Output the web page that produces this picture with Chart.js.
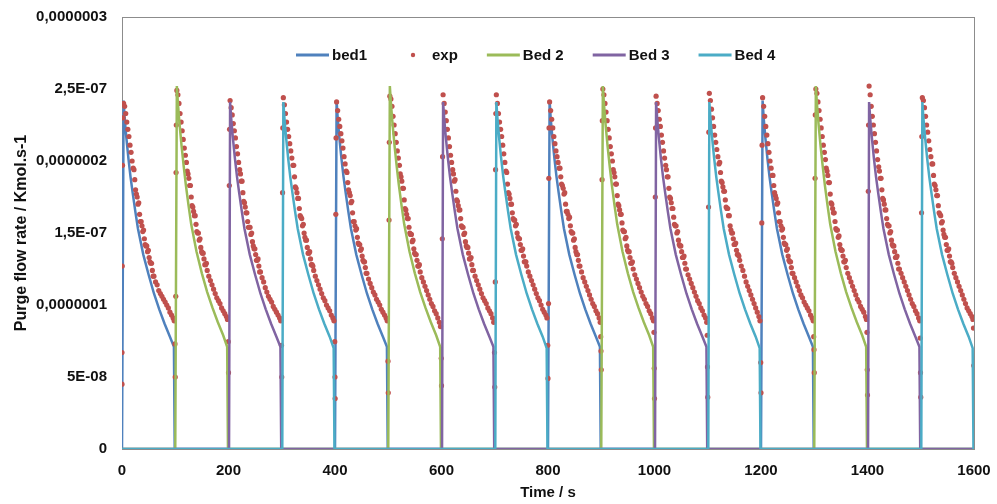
<!DOCTYPE html>
<html>
<head>
<meta charset="utf-8">
<title>Purge flow rate</title>
<script src="https://cdn.jsdelivr.net/npm/chart.js@4.4.1/dist/chart.umd.min.js"></script>
<style>
  html, body { margin: 0; padding: 0; background: #fff; }
  #wrap { width: 997px; height: 504px; }
</style>
</head>
<body>
<div id="wrap"><canvas id="purgeChart" width="997" height="504"></canvas></div>
<script>
// values are in units of 1e-7 kmol/s, time in s

// ---------- axis ticks ----------
const xTickStep = 200;
const yTickValues = [0, 0.5, 1, 1.5, 2, 2.5, 3];
const yTickLabels = ["0", "5E-08", "0,0000001", "1,5E-07", "0,0000002", "2,5E-07", "0,0000003"];

// ---------- model curves (one 100 s purge step per bed, 4 steps each) ----------
const stepOffsets = [0, 1, 3, 5, 8, 12, 16, 20, 25, 30, 40, 50, 60, 70, 80, 90, 97.5, 99, 100];
const bed1Step = [0, 0, 2.42, 2.30, 2.17, 2.02, 1.89, 1.78, 1.65, 1.53, 1.35, 1.21, 1.08, 0.97, 0.87, 0.78, 0.71, 0, 0];
const bed2Step = [0, 0, 2.52, 2.40, 2.26, 2.10, 1.96, 1.83, 1.69, 1.56, 1.37, 1.22, 1.09, 0.98, 0.88, 0.79, 0.71, 0, 0];
const bed3Step = [0, 0, 2.41, 2.30, 2.17, 2.02, 1.89, 1.78, 1.65, 1.53, 1.35, 1.21, 1.08, 0.97, 0.87, 0.78, 0.71, 0, 0];
const bed4Step = [0, 0, 2.41, 2.30, 2.17, 2.02, 1.89, 1.78, 1.65, 1.53, 1.35, 1.21, 1.08, 0.97, 0.87, 0.78, 0.70, 0, 0];
const bed1Starts = [0, 400, 800, 1200];
const bed2Starts = [100, 500, 900, 1300];
const bed3Starts = [200, 600, 1000, 1400];
const bed4Starts = [300, 700, 1100, 1500];

// ---------- experimental points ----------
const expStarts = [0, 100, 200, 300, 400, 500, 600, 700, 800, 900, 1000, 1100, 1200, 1300, 1400, 1500];
const expOffsets = [3, 5, 7, 9, 11, 13, 15, 17, 19, 21, 24, 27, 30, 33, 36, 39, 42, 45, 48, 51, 54, 57, 60, 63, 66, 69, 72, 75, 78, 81, 84, 87, 90, 93, 96, 98];
const expRuns = [
  [2.40, 2.38, 2.33, 2.27, 2.22, 2.17, 2.11, 2.06, 2.00, 1.95, 1.87, 1.77, 1.70, 1.63, 1.58, 1.51, 1.46, 1.41, 1.37, 1.33, 1.29, 1.24, 1.20, 1.16, 1.14, 1.10, 1.08, 1.06, 1.04, 1.02, 1.00, 0.98, 0.95, 0.93, 0.91, 0.89],
  [2.49, 2.46, 2.40, 2.33, 2.27, 2.21, 2.15, 2.09, 2.04, 1.99, 1.91, 1.83, 1.75, 1.68, 1.62, 1.56, 1.50, 1.45, 1.40, 1.36, 1.32, 1.28, 1.24, 1.20, 1.17, 1.14, 1.11, 1.08, 1.05, 1.03, 1.01, 0.98, 0.96, 0.94, 0.92, 0.90],
  [2.42, 2.37, 2.32, 2.26, 2.21, 2.16, 2.10, 2.05, 1.99, 1.94, 1.86, 1.78, 1.71, 1.64, 1.58, 1.54, 1.49, 1.44, 1.39, 1.35, 1.31, 1.27, 1.23, 1.19, 1.16, 1.12, 1.09, 1.06, 1.04, 1.02, 0.99, 0.97, 0.95, 0.93, 0.91, 0.89],
  [2.44, 2.39, 2.33, 2.27, 2.22, 2.17, 2.12, 2.07, 2.02, 1.97, 1.89, 1.81, 1.74, 1.67, 1.61, 1.55, 1.50, 1.45, 1.40, 1.36, 1.32, 1.28, 1.24, 1.20, 1.17, 1.14, 1.11, 1.08, 1.05, 1.03, 1.00, 0.98, 0.96, 0.93, 0.91, 0.89],
  [2.41, 2.35, 2.29, 2.24, 2.19, 2.14, 2.09, 2.03, 1.98, 1.93, 1.85, 1.78, 1.71, 1.64, 1.58, 1.52, 1.47, 1.42, 1.38, 1.34, 1.30, 1.26, 1.22, 1.18, 1.15, 1.12, 1.09, 1.07, 1.04, 1.02, 1.00, 0.97, 0.95, 0.93, 0.91, 0.89],
  [2.45, 2.43, 2.38, 2.31, 2.25, 2.19, 2.13, 2.07, 2.02, 1.97, 1.89, 1.81, 1.73, 1.66, 1.60, 1.54, 1.49, 1.44, 1.39, 1.35, 1.31, 1.27, 1.23, 1.19, 1.16, 1.13, 1.10, 1.07, 1.04, 1.01, 0.99, 0.96, 0.94, 0.91, 0.88, 0.85],
  [2.46, 2.40, 2.34, 2.28, 2.22, 2.16, 2.10, 2.04, 1.99, 1.94, 1.86, 1.79, 1.72, 1.66, 1.60, 1.54, 1.49, 1.44, 1.40, 1.36, 1.32, 1.28, 1.24, 1.20, 1.17, 1.14, 1.11, 1.08, 1.05, 1.03, 1.01, 0.98, 0.96, 0.94, 0.91, 0.88],
  [2.46, 2.40, 2.33, 2.27, 2.22, 2.17, 2.11, 2.05, 1.99, 1.93, 1.84, 1.77, 1.70, 1.64, 1.59, 1.55, 1.50, 1.46, 1.42, 1.38, 1.34, 1.30, 1.27, 1.23, 1.20, 1.17, 1.14, 1.11, 1.08, 1.05, 1.03, 1.00, 0.97, 0.95, 0.93, 0.91],
  [2.41, 2.35, 2.29, 2.23, 2.17, 2.12, 2.07, 2.03, 1.99, 1.95, 1.89, 1.83, 1.77, 1.70, 1.65, 1.60, 1.55, 1.50, 1.45, 1.40, 1.35, 1.31, 1.27, 1.23, 1.19, 1.16, 1.13, 1.10, 1.07, 1.04, 1.01, 0.99, 0.96, 0.94, 0.91, 0.88],
  [2.50, 2.46, 2.40, 2.34, 2.28, 2.22, 2.16, 2.10, 2.05, 2.00, 1.92, 1.84, 1.76, 1.69, 1.63, 1.57, 1.51, 1.46, 1.41, 1.37, 1.33, 1.29, 1.25, 1.21, 1.18, 1.15, 1.12, 1.09, 1.06, 1.04, 1.01, 0.99, 0.96, 0.94, 0.91, 0.89],
  [2.45, 2.40, 2.35, 2.29, 2.24, 2.18, 2.13, 2.07, 2.02, 1.97, 1.89, 1.81, 1.74, 1.67, 1.61, 1.55, 1.50, 1.45, 1.41, 1.37, 1.33, 1.29, 1.25, 1.21, 1.18, 1.15, 1.12, 1.09, 1.06, 1.03, 1.01, 0.98, 0.96, 0.93, 0.91, 0.88],
  [2.47, 2.42, 2.36, 2.30, 2.24, 2.18, 2.13, 2.08, 2.03, 1.98, 1.92, 1.85, 1.79, 1.73, 1.67, 1.62, 1.55, 1.50, 1.46, 1.42, 1.38, 1.35, 1.31, 1.27, 1.24, 1.20, 1.16, 1.13, 1.10, 1.07, 1.04, 1.01, 0.98, 0.95, 0.92, 0.89],
  [2.44, 2.38, 2.31, 2.24, 2.18, 2.12, 2.06, 2.00, 1.95, 1.90, 1.83, 1.76, 1.70, 1.64, 1.58, 1.52, 1.47, 1.42, 1.38, 1.34, 1.30, 1.26, 1.22, 1.19, 1.16, 1.13, 1.10, 1.07, 1.05, 1.02, 1.00, 0.98, 0.96, 0.93, 0.91, 0.89],
  [2.50, 2.47, 2.41, 2.35, 2.29, 2.23, 2.17, 2.11, 2.06, 2.01, 1.93, 1.85, 1.77, 1.70, 1.64, 1.58, 1.52, 1.47, 1.42, 1.38, 1.34, 1.30, 1.26, 1.22, 1.19, 1.16, 1.13, 1.10, 1.07, 1.04, 1.02, 0.99, 0.97, 0.95, 0.92, 0.90],
  [2.52, 2.46, 2.38, 2.31, 2.25, 2.19, 2.13, 2.07, 2.01, 1.96, 1.88, 1.80, 1.73, 1.66, 1.60, 1.55, 1.50, 1.45, 1.41, 1.37, 1.33, 1.29, 1.25, 1.22, 1.19, 1.16, 1.13, 1.10, 1.07, 1.04, 1.01, 0.99, 0.96, 0.94, 0.91, 0.89],
  [2.44, 2.42, 2.37, 2.31, 2.25, 2.20, 2.14, 2.08, 2.03, 1.98, 1.90, 1.83, 1.76, 1.69, 1.63, 1.57, 1.52, 1.47, 1.42, 1.38, 1.34, 1.30, 1.26, 1.22, 1.19, 1.16, 1.13, 1.10, 1.07, 1.04, 1.01, 0.98, 0.96, 0.94, 0.92, 0.90]
];
// extra samples in the middle of each step (the scatter is denser there)
const expMidOffsets = [22.5, 25.5, 28.5, 31.5, 34.5, 37.5, 40.5, 43.5, 46.5, 49.5, 52.5, 55.5, 58.5];
const expMidRuns = [
  [1.94, 1.80, 1.75, 1.71, 1.58, 1.55, 1.52, 1.42, 1.41, 1.38, 1.30, 1.29, 1.20],
  [1.93, 1.88, 1.83, 1.69, 1.65, 1.62, 1.51, 1.50, 1.46, 1.37, 1.36, 1.28, 1.29],
  [1.91, 1.86, 1.72, 1.68, 1.64, 1.54, 1.54, 1.50, 1.41, 1.39, 1.31, 1.32, 1.23],
  [1.97, 1.82, 1.78, 1.74, 1.62, 1.60, 1.56, 1.47, 1.45, 1.36, 1.37, 1.28, 1.27],
  [1.92, 1.80, 1.76, 1.72, 1.58, 1.55, 1.53, 1.43, 1.42, 1.39, 1.31, 1.30, 1.22],
  [1.91, 1.86, 1.81, 1.67, 1.63, 1.60, 1.50, 1.49, 1.45, 1.36, 1.35, 1.27, 1.28],
  [1.91, 1.87, 1.73, 1.69, 1.66, 1.55, 1.54, 1.50, 1.41, 1.40, 1.32, 1.33, 1.24],
  [1.92, 1.78, 1.74, 1.70, 1.60, 1.59, 1.56, 1.47, 1.46, 1.38, 1.39, 1.30, 1.30],
  [1.95, 1.84, 1.81, 1.78, 1.65, 1.63, 1.61, 1.51, 1.50, 1.46, 1.37, 1.35, 1.27],
  [1.94, 1.89, 1.84, 1.70, 1.66, 1.63, 1.52, 1.51, 1.47, 1.38, 1.37, 1.29, 1.30],
  [1.94, 1.89, 1.75, 1.71, 1.67, 1.56, 1.55, 1.51, 1.42, 1.41, 1.33, 1.34, 1.25],
  [1.99, 1.86, 1.82, 1.79, 1.68, 1.67, 1.62, 1.52, 1.50, 1.42, 1.43, 1.35, 1.34],
  [1.90, 1.78, 1.74, 1.71, 1.58, 1.55, 1.53, 1.43, 1.42, 1.39, 1.31, 1.30, 1.22],
  [1.95, 1.90, 1.85, 1.71, 1.67, 1.64, 1.53, 1.52, 1.48, 1.39, 1.38, 1.30, 1.31],
  [1.93, 1.88, 1.74, 1.70, 1.66, 1.56, 1.55, 1.51, 1.42, 1.41, 1.33, 1.34, 1.25],
  [1.98, 1.84, 1.80, 1.76, 1.64, 1.62, 1.58, 1.49, 1.47, 1.38, 1.39, 1.30, 1.29]
];
// points caught on the switch between beds
const edgeTimes = [
  0, 0, 0.5, 1, 2,
  99.5, 100, 101, 101.5, 102,
  199.5, 200, 201.5, 202,
  299.5, 300, 301.5, 302,
  399.5, 400, 400.3, 401.5, 402,
  499.5, 500, 501.5, 502,
  599.5, 600, 601.5, 602,
  699.5, 700, 701, 701.5, 702,
  799.5, 800, 801, 801.5, 802,
  899, 899.5, 900, 901.5, 902,
  999, 999.5, 1000, 1001.5, 1002,
  1099, 1099.5, 1100, 1101.5, 1102,
  1199.5, 1200, 1201.5, 1202,
  1299, 1299.5, 1300, 1301.5, 1302,
  1399, 1399.5, 1400, 1401.5, 1402,
  1499, 1499.5, 1500, 1501.5, 1502,
  1599, 1599.5
];
const edgeValues = [
  0.45, 0.67, 1.27, 1.97, 2.30,
  0.73, 0.50, 1.06, 1.92, 2.25,
  0.745, 0.53, 1.83, 2.22,
  0.72, 0.50, 1.78, 2.23,
  0.745, 0.50, 0.35, 1.63, 2.16,
  0.61, 0.39, 1.59, 2.13,
  0.63, 0.44, 1.46, 2.03,
  0.67, 0.43, 1.16, 1.94, 2.33,
  0.72, 0.49, 1.01, 1.88, 2.23,
  0.78, 0.68, 0.55, 1.87, 2.28,
  0.81, 0.56, 0.35, 1.75, 2.23,
  0.79, 0.57, 0.36, 1.68, 2.20,
  0.60, 0.39, 1.57, 2.11,
  0.78, 0.69, 0.53, 1.88, 2.32,
  0.81, 0.55, 0.375, 1.79, 2.25,
  0.77, 0.53, 0.36, 1.64, 2.17,
  0.84, 0.58
];

const X_MAX = 1600;
const FONT = "'Liberation Sans', Arial, sans-serif";

function bedSeries(starts, step) {
  const pts = [{ x: 0, y: 0 }];
  starts.forEach(s => {
    stepOffsets.forEach((o, i) => pts.push({ x: s + o, y: step[i] }));
  });
  pts.push({ x: X_MAX, y: 0 });
  return pts;
}

let expPoints = [];
expStarts.forEach((s, k) => {
  expOffsets.forEach((o, i) => expPoints.push({ x: s + o, y: expRuns[k][i] }));
  expMidOffsets.forEach((o, i) => expPoints.push({ x: s + o, y: expMidRuns[k][i] }));
});
edgeTimes.forEach((t, i) => expPoints.push({ x: t, y: edgeValues[i] }));

const colors = {
  bed1: "#4F81BD",
  exp: "#C0504D",
  bed2: "#9BBB59",
  bed3: "#8064A2",
  bed4: "#4BACC6"
};

function lineSet(label, data, color, order) {
  return {
    label: label,
    data: data,
    showLine: true,
    borderColor: color,
    backgroundColor: color,
    borderWidth: 2.5,
    pointRadius: 0,
    pointHoverRadius: 0,
    tension: 0,
    order: order
  };
}

// frame around the plot area
const plotFrame = {
  id: "plotFrame",
  beforeDatasetsDraw(chart) {
    const { ctx, chartArea: a } = chart;
    ctx.save();
    ctx.strokeStyle = "#8c8c8c";
    ctx.lineWidth = 1;
    ctx.strokeRect(a.left + 0.5, a.top + 0.5, a.right - a.left, a.bottom - a.top);
    ctx.restore();
  }
};

// legend drawn inside the plot, Excel style
const insideLegend = {
  id: "insideLegend",
  afterDraw(chart) {
    const { ctx, chartArea: a } = chart;
    const items = [
      { text: "bed1", color: colors.bed1, dot: false },
      { text: "exp", color: colors.exp, dot: true },
      { text: "Bed 2", color: colors.bed2, dot: false },
      { text: "Bed 3", color: colors.bed3, dot: false },
      { text: "Bed 4", color: colors.bed4, dot: false }
    ];
    const y = a.top + 38;
    let x = a.left + 174;
    ctx.save();
    ctx.font = "bold 15px " + FONT;
    ctx.textBaseline = "middle";
    ctx.textAlign = "left";
    items.forEach(it => {
      if (it.dot) {
        ctx.fillStyle = it.color;
        ctx.beginPath();
        ctx.arc(x + 17, y, 2.2, 0, Math.PI * 2);
        ctx.fill();
      } else {
        ctx.strokeStyle = it.color;
        ctx.lineWidth = 3;
        ctx.beginPath();
        ctx.moveTo(x, y);
        ctx.lineTo(x + 33, y);
        ctx.stroke();
      }
      ctx.fillStyle = "#111";
      ctx.fillText(it.text, x + 36, y + 1);
      x += 36 + ctx.measureText(it.text).width + 29;
    });
    ctx.restore();
  }
};

new Chart(document.getElementById("purgeChart"), {
  type: "scatter",
  data: {
    datasets: [
      lineSet("bed1", bedSeries(bed1Starts, bed1Step), colors.bed1, 5),
      {
        label: "exp",
        data: expPoints,
        backgroundColor: colors.exp,
        borderColor: colors.exp,
        borderWidth: 0,
        pointRadius: 2.6,
        pointHoverRadius: 2.6,
        order: 4
      },
      lineSet("Bed 2", bedSeries(bed2Starts, bed2Step), colors.bed2, 3),
      lineSet("Bed 3", bedSeries(bed3Starts, bed3Step), colors.bed3, 2),
      lineSet("Bed 4", bedSeries(bed4Starts, bed4Step), colors.bed4, 1)
    ]
  },
  options: {
    responsive: false,
    animation: false,
    layout: { padding: { top: 17, right: 23, bottom: 0, left: 0 } },
    plugins: {
      legend: { display: false },
      tooltip: { enabled: false }
    },
    scales: {
      x: {
        type: "linear",
        min: 0,
        max: X_MAX,
        grid: { display: false, drawTicks: false },
        border: { display: true, color: "#8c8c8c", width: 1 },
        ticks: {
          stepSize: xTickStep,
          padding: 13,
          color: "#111",
          font: { family: FONT, size: 15, weight: "bold" },
          callback: (v) => String(v)
        },
        title: {
          display: true,
          text: "Time / s",
          color: "#111",
          padding: { top: 0, bottom: 2 },
          font: { family: FONT, size: 15, weight: "bold" }
        },
        afterFit(scale) {
          scale.height = 55;
          scale.paddingLeft = 0;
          scale.paddingRight = 0;
        }
      },
      y: {
        type: "linear",
        min: 0,
        max: 3,
        grid: { display: false, drawTicks: false },
        border: { display: true, color: "#8c8c8c", width: 1 },
        afterBuildTicks(scale) {
          scale.ticks = yTickValues.map(v => ({ value: v }));
        },
        ticks: {
          padding: 15,
          color: "#111",
          font: { family: FONT, size: 15, weight: "bold" },
          callback: (v) => yTickLabels[yTickValues.indexOf(v)]
        },
        title: {
          display: true,
          text: "Purge flow rate / Kmol.s-1",
          color: "#111",
          padding: { top: 12, bottom: 0 },
          font: { family: FONT, size: 16, weight: "bold" }
        },
        afterFit(scale) {
          scale.width = 122;
          scale.paddingTop = 0;
          scale.paddingBottom = 0;
        }
      }
    }
  },
  plugins: [plotFrame, insideLegend]
});
</script>
</body>
</html>
